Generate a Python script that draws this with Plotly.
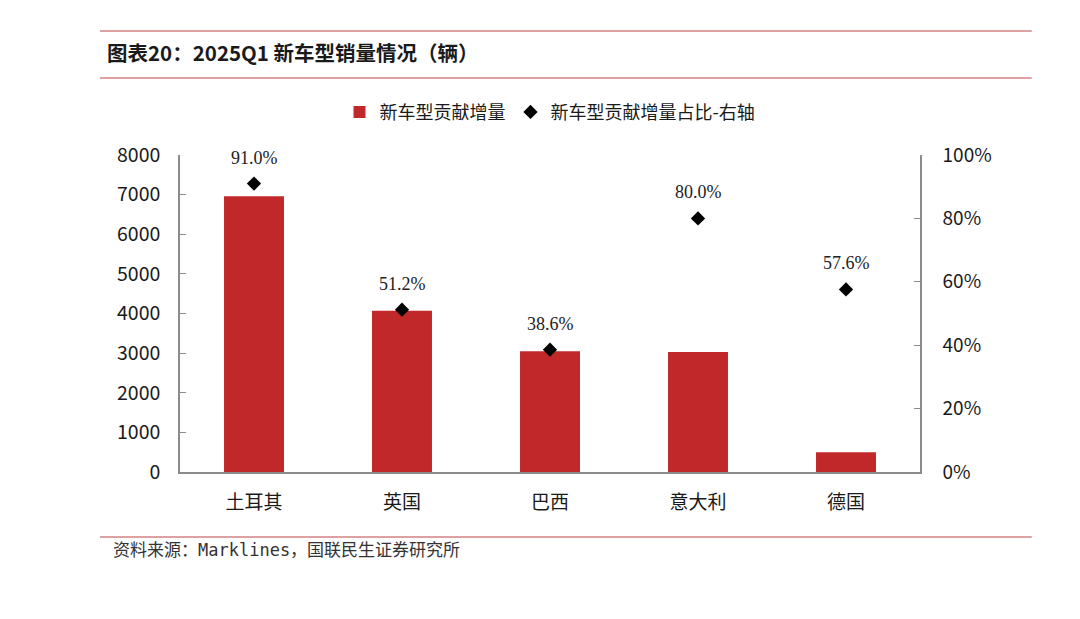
import plotly.graph_objects as go

categories = ["土耳其", "英国", "巴西", "意大利", "德国"]
contrib = [6960, 4070, 3050, 3030, 500]
share = [91.0, 51.2, 38.6, 80.0, 57.6]
share_labels = ["91.0%", "51.2%", "38.6%", "80.0%", "57.6%"]

left_ticks = [0, 1000, 2000, 3000, 4000, 5000, 6000, 7000, 8000]
right_ticks = [0, 20, 40, 60, 80, 100]

FONT = "Noto Sans CJK SC"
AX = "#8c8c8c"
LINE_RED = "#d28282"
TXT = "#1a1a1a"

fig = go.Figure()
fig.add_trace(go.Bar(
    x=categories, y=contrib, name="新车型贡献增量",
    marker=dict(color="#c0282a", line=dict(width=0)),
    width=0.405, yaxis="y",
))
fig.add_trace(go.Scatter(
    x=categories, y=share, name="新车型贡献增量占比-右轴",
    mode="markers", marker=dict(symbol="diamond", size=11, color="#000000"),
    yaxis="y2",
))

annotations = []
for c, v, t in zip(categories, share, share_labels):
    annotations.append(dict(
        x=c, y=v, xref="x", yref="y2", text=t, showarrow=False,
        yshift=26, font=dict(family="Liberation Serif", size=18, color="#222222"),
    ))

annotations.append(dict(
    x=-0.101, y=1.325, xref="paper", yref="paper", xanchor="left", yanchor="middle",
    text="<b>图表20：2025Q1 新车型销量情况（辆）</b>", showarrow=False,
    font=dict(family=FONT, size=20.5, color=TXT),
))
annotations.append(dict(
    x=-0.093, y=-0.245, xref="paper", yref="paper", xanchor="left", yanchor="middle",
    text="资料来源：Marklines，国联民生证券研究所", showarrow=False,
    font=dict(family="DejaVu Sans Mono, Noto Sans CJK SC", size=17, color="#333333"),
))

shapes = [
    dict(type="line", xref="paper", yref="paper", x0=-0.108, x1=1.151, y0=1.391, y1=1.391,
         line=dict(color=LINE_RED, width=1.5)),
    dict(type="line", xref="paper", yref="paper", x0=-0.108, x1=1.151, y0=1.243, y1=1.243,
         line=dict(color=LINE_RED, width=1.5)),
    dict(type="line", xref="paper", yref="paper", x0=-0.108, x1=1.151, y0=-0.205, y1=-0.205,
         line=dict(color=LINE_RED, width=1.5)),
]

fig.update_layout(
    width=1080, height=619,
    margin=dict(l=172, r=168, t=147, b=155),
    paper_bgcolor="white", plot_bgcolor="white",
    font=dict(family=FONT, size=18, color=TXT),
    showlegend=True,
    legend=dict(orientation="h", x=0.5, xanchor="center", y=1.135, yanchor="middle",
                font=dict(family=FONT, size=18, color=TXT),
                tracegroupgap=0, bgcolor="rgba(0,0,0,0)"),
    xaxis=dict(showline=True, linecolor=AX, linewidth=1.5, ticks="", showgrid=False,
               tickfont=dict(family=FONT, size=19, color=TXT), zeroline=False,
               ticklabelstandoff=12),
    yaxis=dict(range=[0, 8000], tickvals=left_ticks, showline=True, linecolor=AX, linewidth=1.5,
               ticks="inside", ticklen=6, tickcolor=AX, showgrid=False, zeroline=False,
               tickfont=dict(family=FONT, size=19.5, color=TXT), ticklabelstandoff=14),
    yaxis2=dict(range=[0, 100], tickvals=right_ticks, ticktext=[f"{v}%" for v in right_ticks],
                overlaying="y", side="right", showline=True, linecolor=AX, linewidth=1.5,
                ticks="inside", ticklen=6, tickcolor=AX, showgrid=False, zeroline=False,
                tickfont=dict(family=FONT, size=19, color=TXT), ticklabelstandoff=17),
    annotations=annotations,
    shapes=shapes,
)

fig.write_html("out.html")
